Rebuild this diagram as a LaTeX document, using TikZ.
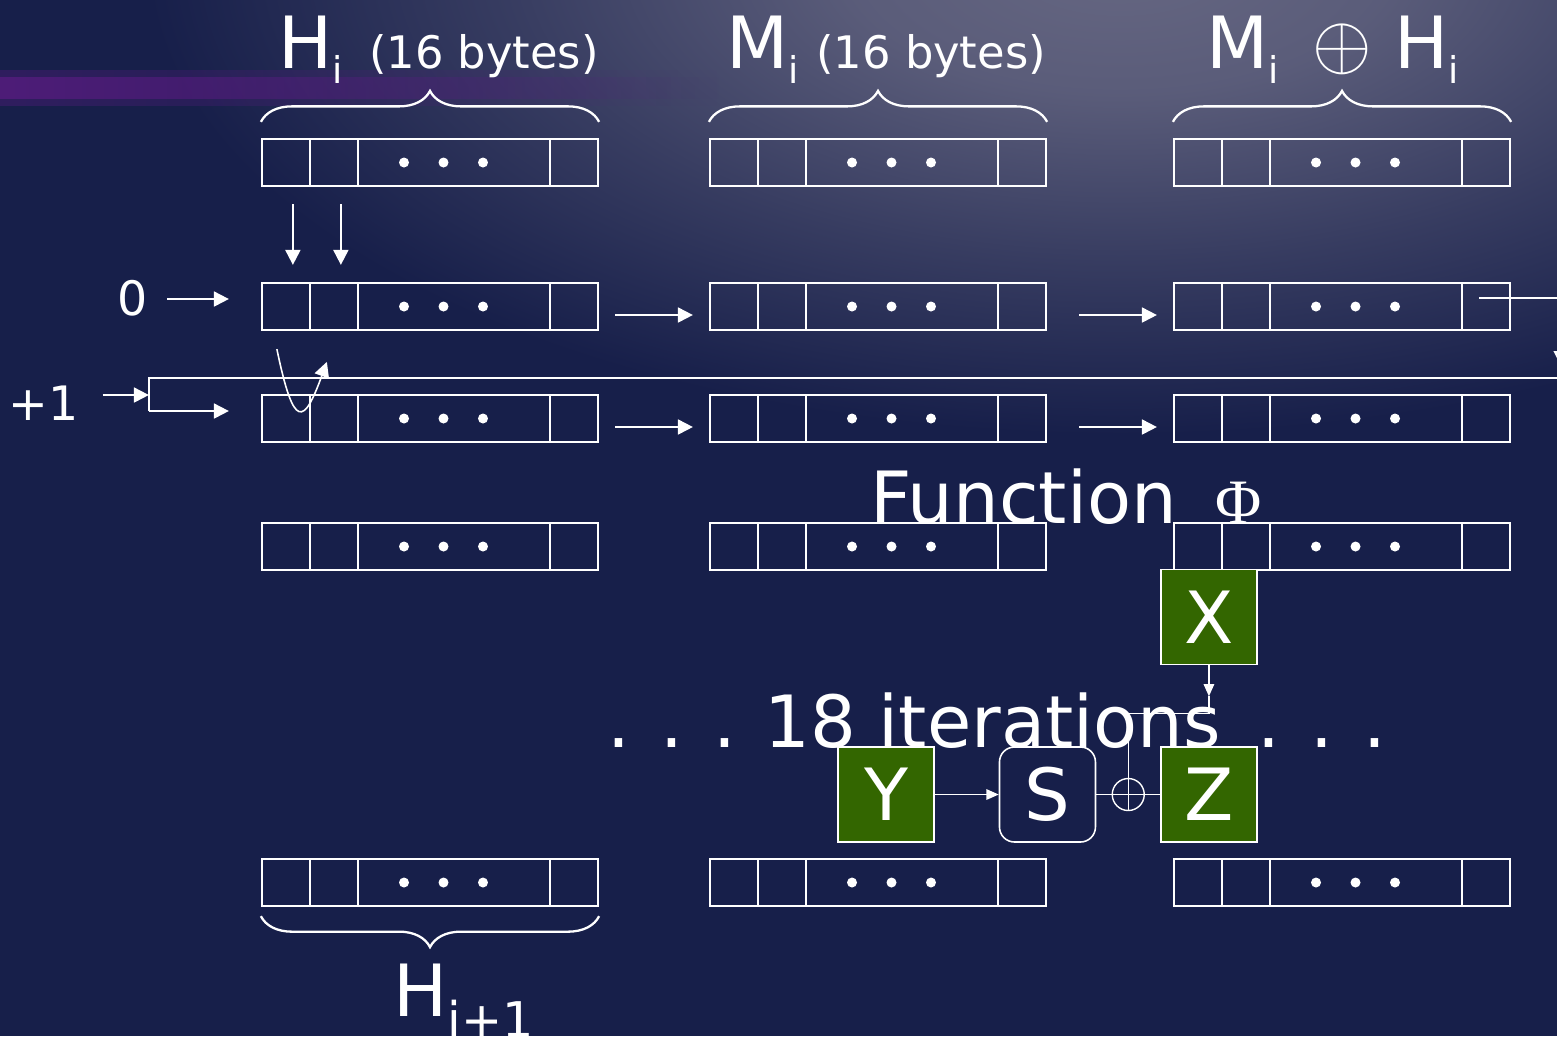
\documentclass[tikz,border=0pt]{standalone}
\usepackage{fontspec}
\setmainfont{DejaVu Sans}
\newfontfamily\phifont{Liberation Serif}
\usepackage{tikz}
\usetikzlibrary{positioning,calc,arrows.meta}
\usetikzlibrary{decorations.pathreplacing,fadings}

\definecolor{navy}{RGB}{23,31,74}
\definecolor{haze}{RGB}{102,103,130}
\definecolor{streak}{RGB}{92,28,132}
\definecolor{leaf}{RGB}{51,102,0}

\newcommand\bigtxt{\fontsize{41pt}{41pt}\selectfont}
\newcommand\midtxt{\fontsize{25.5pt}{25.5pt}\selectfont}
\newcommand\numtxt{\fontsize{27pt}{27pt}\selectfont}
\newcommand\idx[2][21pt]{\raisebox{-0.43\dimexpr#1\relax}{\fontsize{#1}{#1}\selectfont #2}}
\newcommand\xorsign{\scalebox{1.75}{$\oplus$}}
\newcommand\gap{\hspace{17pt}}

\pgfdeclareradialshading{hazeglow}{\pgfpoint{0bp}{0bp}}{%
  color(0bp)=(haze); color(7bp)=(haze!85!navy); color(16bp)=(haze!40!navy);
  color(25bp)=(navy); color(50bp)=(navy)}
\tikzfading[name=streakfade, left color=transparent!20, middle color=transparent!0,
  right color=transparent!100]

\begin{document}
\begin{tikzpicture}[x=0.02cm,y=-0.02cm,
  every node/.style={text=white,inner sep=0pt},
  reg/.style={draw=white,line width=1.3pt,minimum width=6.72cm,minimum height=0.94cm,
    path picture={
      \foreach \d in {0.96,1.92,5.76}
        \draw[white,line width=1.3pt] ([xshift=\d cm]path picture bounding box.north west)
          -- ([xshift=\d cm]path picture bounding box.south west);
      \foreach \d in {2.84,3.63,4.42}
        \fill[white] ([xshift=\d cm]path picture bounding box.west) circle (0.1cm);
    }},
  brc/.style={decorate,decoration={brace,amplitude=0.62cm},white,line width=1.3pt},
  arr/.style={white,line width=1.1pt,-{Triangle[length=8.5pt,width=8.5pt]}},
  tarr/.style={white,line width=0.8pt,-{Triangle[length=7pt,width=6pt]}},
  wire/.style={white,line width=0.8pt},
  blk/.style={draw=white,line width=0.8pt,fill=leaf,minimum width=1.92cm,
    minimum height=1.9cm,font=\bigtxt},
  sblk/.style={blk,fill=navy,line width=0.9pt,rounded corners=0.3cm},
  xor/.style={circle,draw=white,line width=0.8pt,minimum size=0.64cm,
    path picture={
      \draw[white,line width=0.8pt]
        (path picture bounding box.north) -- (path picture bounding box.south)
        (path picture bounding box.west) -- (path picture bounding box.east);
    }}]

  % backdrop: navy slide, grey haze top right, purple streak top left
  \useasboundingbox (0,0) rectangle (1557,1036);
  \fill[navy] (0,0) rectangle (1557,1036);
  \clip (0,0) rectangle (1557,1036);
  \shade[shading=hazeglow] (1120,-40) ellipse [x radius=19.5cm, y radius=9.5cm];
  \fill[streak,opacity=.45,path fading=streakfade] (0,70) rectangle (720,106);
  \fill[streak,opacity=.85,path fading=streakfade] (0,77) rectangle (720,99);

  % the five rows of 16-byte registers, three columns each
  \foreach \r/\y in {1/162.5,2/306.5,3/418.5,4/546.5,5/882.5}
    \foreach \c/\x in {1/430,2/878,3/1342}
      \node[reg] (r\r\c) at (\x,\y) {};

  % braces and headings
  \foreach \c in {1,2,3}
    \draw[brc] ([yshift=0.32cm]r1\c.north west) -- ([yshift=0.32cm]r1\c.north east);
  \draw[brc] ([yshift=-0.18cm]r51.south east) -- ([yshift=-0.18cm]r51.south west);

  \node[anchor=base west] (lhi) at (278,68)
    {\bigtxt H\idx{i}\hspace{15pt}\midtxt(16 bytes)};
  \node[anchor=base west] (lmi) at (726,68)
    {\bigtxt M\idx{i}\hspace{10pt}\midtxt(16 bytes)};
  \node[anchor=base west] (lxor) at (1206,68)
    {\bigtxt M\idx{i}\hspace{19pt}\xorsign\hspace{13pt}H\idx{i}};
  \node[anchor=base west] (lnext) at (393,1016) {\bigtxt H\idx[28pt]{i+1}};

  % inputs: 0 and +1
  \node (zero) at (133,298) {\numtxt 0};
  \node[anchor=base west] (plus) at (8,420) {\numtxt +1};
  \coordinate (fmid) at ($(r31.west)+(-112,-23.5)$);
  \coordinate (ftop) at ($(fmid)+(0,-17)$);
  \coordinate (fbot) at ($(fmid)+(0,16)$);
  \coordinate (fend) at ($(ftop)+(1500,0)$);

  \draw[arr] ($(zero.east)+(19,1)$) -- ($(r21.west)+(-32,-7.5)$);
  \draw[arr] ($(plus.east |- fmid)+(24,0)$) -- (fmid);
  \draw[wire,line width=1.1pt] (fbot) -- (ftop) -- (fend);
  \draw[arr] (fbot) -- ($(r31.west |- fbot)+(-32,0)$);

  % first two bytes copied down, then swapped
  \foreach \dx in {0.64,1.6}
    \draw[arr] ([xshift=\dx cm,yshift=-0.34cm]r11.south west)
      -- ([xshift=\dx cm,yshift=0.34cm]r21.north west);
  \draw[arr,line width=0.9pt] ($(r21.south west)+(16,18)$)
    .. controls +(17,82) and +(-23,63) .. ($(r31.north west)+(66,-32)$);

  % row to row arrows
  \foreach \r in {2,3} {
    \draw[arr] ([xshift=0.32cm,yshift=-0.17cm]r\r1.east)
      -- ([xshift=-0.32cm,yshift=-0.17cm]r\r2.west);
    \draw[arr] ([xshift=0.64cm,yshift=-0.17cm]r\r2.east)
      -- ([xshift=-0.32cm,yshift=-0.17cm]r\r3.west);
  }
  \draw[arr] ([xshift=-0.64cm,yshift=0.17cm]r23.east) -- ++(1.64cm,0) -- ++(0,-1.36cm);

  % round function
  \node[anchor=base west] (func) at (870,523)
    {\bigtxt Function\hspace{22pt}{\phifont\fontsize{36pt}{36pt}\selectfont Φ}};

  \node[blk] (Y) at (886,794.5) {Y};
  \node[sblk,right=1.28cm of Y] (S) {S};
  \node[blk,right=1.28cm of S] (Z) {Z};
  \node[blk,above=1.62cm of Z] (X) {X};
  \node[xor] (xr) at ($(S.east)!0.5!(Z.west)$) {};

  \node[anchor=base] (iter) at (997,747)
    {\bigtxt .\gap.\gap.\hspace{16pt}18 iterations\hspace{21pt}.\gap.\gap.};

  \coordinate (xtip) at ($(X.south)+(0,31)$);
  \coordinate (xbend) at ($(X.south)+(0,48)$);
  \draw[tarr] (Y) -- (S);
  \draw[wire] (S) -- (xr);
  \draw[wire] (xr) -- (Z);
  \draw[tarr] (X) -- (xtip);
  \draw[wire] (xtip) -- (xbend) -- (xbend -| xr) -- (xr);
\end{tikzpicture}
\end{document}
